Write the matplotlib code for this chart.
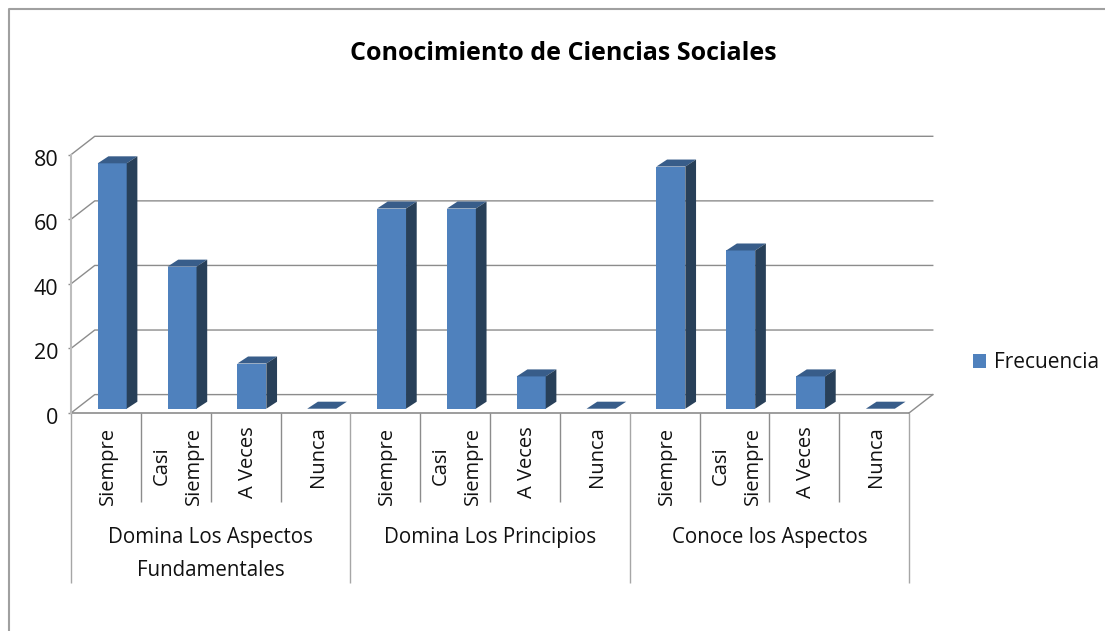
import numpy as np
import matplotlib.pyplot as plt
from matplotlib.lines import Line2D
from matplotlib.transforms import ScaledTranslation

plt.rcParams['font.family'] = ['Open Sans', 'DejaVu Sans']

# datos
categorias = ['Siempre', 'Casi\nSiempre', 'A Veces', 'Nunca'] * 3
frecuencia = [76, 44, 14, 0, 62, 62, 10, 0, 75, 49, 10, 0]
grupos = ['Domina Los Aspectos\nFundamentales', 'Domina Los Principios', 'Conoce los Aspectos']
yticks = [0, 20, 40, 60, 80]

W, H = 1105, 631
fig = plt.figure(figsize=(W / 100, H / 100), dpi=100, facecolor='white')
ax = fig.add_axes([71 / W, 1 - 413 / H, (909 - 71) / W, (413 - 154.7) / H])
ax.set_xlim(0, 12)
ax.set_ylim(0, 80)
ax.patch.set_visible(False)
for s in ax.spines.values():
    s.set_visible(False)
ax.spines['left'].set_visible(True)
ax.spines['left'].set_color('#bdbdbd')
ax.spines['left'].set_linewidth(1.5)

# pared del fondo (efecto 3D)
wall_dx, wall_dy = 0.34, 5.7
gris = '#8c8c8c'
for v in yticks:
    ax.plot([0, wall_dx, 12 + wall_dx], [v, v + wall_dy, v + wall_dy], color=gris, lw=1, clip_on=False, zorder=1)
ax.plot([12, 12 + wall_dx], [0, wall_dy], color=gris, lw=1, clip_on=False, zorder=1)
ax.plot([0, 12], [0, 0], color=gris, lw=1.2, clip_on=False, zorder=1)

# barras
x = np.arange(12) + 0.5
bar_w = 0.415
shift = 0.09
base = 1.33
dx, dy = 0.153, 2.17
fronts = ax.bar(x + shift, frecuencia, width=bar_w, bottom=base, color='#4F81BD',
                label='Frecuencia', clip_on=False, zorder=3)
for xi, v in zip(x + shift, frecuencia):
    l, r, top = xi - bar_w / 2, xi + bar_w / 2, v + base
    ax.fill([l, r, r + dx, l + dx], [top, top, top + dy, top + dy], color='#385D8A', lw=0, clip_on=False, zorder=3)
    if v > 0:
        ax.fill([r, r + dx, r + dx, r], [base, base + dy, top + dy, top], color='#284059', lw=0, clip_on=False, zorder=3)

# eje y
ax.set_yticks(yticks)
ax.tick_params(axis='y', length=2.5, width=1, color=gris, pad=6.5, labelsize=15.5, labelcolor='#111111')
ax.set_xticks([])
for lbl in ax.get_yticklabels():
    lbl.set_transform(lbl.get_transform() + ScaledTranslation(0, -3 / 100, fig.dpi_scale_trans))

# separadores y etiquetas del eje x
ax.vlines([i for i in range(1, 12) if i % 4], -27.5, 0, color=gris, lw=1, clip_on=False)
ax.vlines([0, 4, 8, 12], -52.6, 0, color='#a6a6a6', lw=1, clip_on=False)
for xi, c in zip(x, categorias):
    ax.text(xi + 0.03, -4.2, c, rotation=90, ha='center', va='top', fontsize=14.5, color='#111111',
            linespacing=1.8, multialignment='center')
for i, g in enumerate(grupos):
    ax.text(2 + 4 * i, -35.4, g, ha='center', va='top', fontsize=14.8, color='#111111', linespacing=1.75)

fig.text(563 / W, 1 - 53 / H, 'Conocimiento de Ciencias Sociales', ha='center', va='center',
         fontsize=18, fontweight='bold', color='black')

ax.legend(loc='center left', bbox_to_anchor=(958 / W, 1 - 363 / H), bbox_transform=fig.transFigure,
          frameon=False, fontsize=15, handlelength=0.65, handleheight=0.65, handletextpad=0.4,
          borderpad=0.2, labelcolor='#111111')

# marco del grafico
fig.add_artist(Line2D([9 / W, 9 / W, 1], [0, 1 - 9 / H, 1 - 9 / H], color='#a0a0a0', lw=1.5))

fig.savefig('out.png', dpi=100)
